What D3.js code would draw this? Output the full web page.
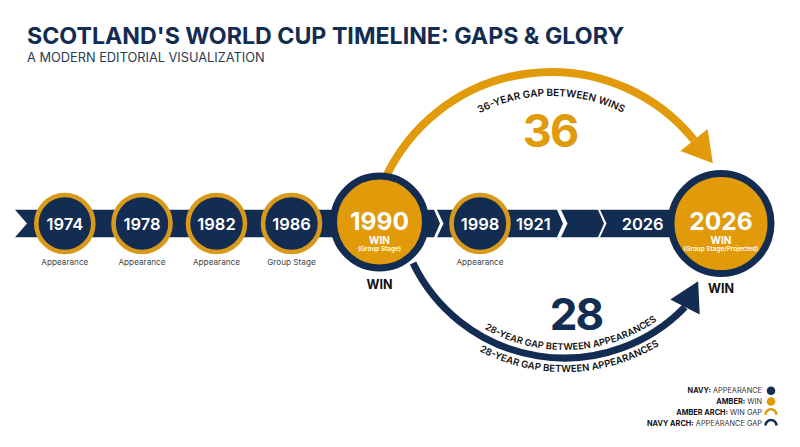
<!DOCTYPE html>
<html><head><meta charset="utf-8">
<script src="https://cdn.jsdelivr.net/npm/d3@7"></script>
<style>html,body{margin:0;background:#fff}svg{display:block;font-family:Inter,sans-serif}</style>
</head><body><svg id="c" width="800" height="447"></svg>
<script>
const years=[1974,1978,1982,1986,1990,1998,2026];
const kinds=["appearance","appearance","appearance","appearance","win","appearance","win"];
const captions=["Appearance","Appearance","Appearance","Group Stage","(Group Stage)","Appearance","(Group Stage/Projected)"];
const ribbonLabels=[{t:"1921",x:2004.2},{t:"2026",x:2016.9}];
const gapValues=[36,28];
const gapLabels=["36-YEAR GAP BETWEEN WINS","28-YEAR GAP BETWEEN APPEARANCES"];
const legendBold=["NAVY:","AMBER:","AMBER ARCH:","NAVY ARCH:"];
const legendRest=[" APPEARANCE"," WIN"," WIN GAP"," APPEARANCE GAP"];
const title="SCOTLAND'S WORLD CUP TIMELINE: GAPS & GLORY";
const subtitle="A MODERN EDITORIAL VISUALIZATION";

const NAVY="#132c52",AMBER="#e09a0a",RING="#d99a1c";
const svg=d3.select("#c");
const x=d3.scaleLinear().domain(years).range([64.8,142,216.5,291.5,379.5,480,721]);
const cy=223.5,bandH=27.5;

svg.append("text").attr("x",27).attr("y",43.5).attr("font-size",23.2).attr("font-weight",700).attr("fill",NAVY).text(title);
svg.append("text").attr("x",27).attr("y",62).attr("font-size",12.8).attr("fill","#2b3a52").text(subtitle);

// ribbon
const segs=[[15,434,true],[437,557,false],[561,598,false],[600,x(2026),false]];
const bandTop=cy-bandH/2,bandBot=cy+bandH/2,line=d3.line();
segs.forEach(([a,b],i)=>{
  const pts=[[a,bandTop],[b,bandTop],[b+(i===3?0:6),cy],[b,bandBot],[a,bandBot],[a+(i===0?12:6.5),cy]];
  svg.append("path").attr("d",line(pts)+"Z").attr("fill",NAVY);
});
svg.selectAll(".rl").data(ribbonLabels).join("text").attr("x",d=>x(d.x)).attr("y",cy+6)
  .attr("text-anchor","middle").attr("font-size",16.5).attr("font-weight",600).attr("fill","#fff").text(d=>d.t);

// geometry helpers
function circle3(a,b,c){
  const d=2*(a[0]*(b[1]-c[1])+b[0]*(c[1]-a[1])+c[0]*(a[1]-b[1]));
  const s=p=>p[0]*p[0]+p[1]*p[1];
  const ux=(s(a)*(b[1]-c[1])+s(b)*(c[1]-a[1])+s(c)*(a[1]-b[1]))/d;
  const uy=(s(a)*(c[0]-b[0])+s(b)*(a[0]-c[0])+s(c)*(b[0]-a[0]))/d;
  return {x:ux,y:uy,r:Math.hypot(a[0]-ux,a[1]-uy)};
}
const ang=(c,p)=>Math.atan2(p[1]-c.y,p[0]-c.x);
function gapArc(o){
  const c=circle3(o.a,o.b,o.e);
  const p=d3.path();
  p.arc(c.x,c.y,c.r,ang(c,o.a),ang(c,o.e),o.ccw);
  svg.append("path").attr("d",p.toString()).attr("fill","none").attr("stroke",o.color).attr("stroke-width",o.w);
  const t=ang(c,o.e)+(o.ccw?-Math.PI/2:Math.PI/2)+(o.turn||0);
  const ux=Math.cos(t),uy=Math.sin(t);
  const [ex,ey]=o.e;
  svg.append("path").attr("fill",o.color).attr("d",line([
    [ex+ux*o.L,ey+uy*o.L],[ex-uy*o.H,ey+ux*o.H],[ex+uy*o.H,ey-ux*o.H]])+"Z");
  return c;
}
function curvedText(c,id,r,mid,ccw,str,size){
  const p=d3.path(),sp=1.2;
  p.arc(c.x,c.y,r,ccw?mid+sp:mid-sp,ccw?mid-sp:mid+sp,ccw);
  svg.append("defs").append("path").attr("id",id).attr("d",p.toString());
  svg.append("text").attr("font-size",size).attr("font-weight",600).attr("fill","#111")
    .append("textPath").attr("href","#"+id).attr("startOffset","50%").attr("text-anchor","middle").text(str);
}
// amber arch
const ca=gapArc({a:[385,179],b:[550,72],e:[694,140],ccw:false,color:AMBER,w:8,L:30,H:17.5});
curvedText(ca,"t36",ca.r-(96-72),ang(ca,[551,72]),false,gapLabels[0],10);
svg.append("text").attr("x",550).attr("y",147).attr("text-anchor","middle").attr("font-size",45).attr("letter-spacing",-2).attr("font-weight",700).attr("fill",AMBER).text(gapValues[0]);
// navy arch
const cn=gapArc({a:[413,263],b:[560,358],e:[685,307],ccw:true,color:NAVY,w:7,L:29,H:16.5,turn:-0.3});
curvedText(cn,"t28a",cn.r+(350-358),ang(cn,[572,350]),true,gapLabels[1],9.3);
curvedText(cn,"t28b",cn.r+(372-358),ang(cn,[570,372]),true,gapLabels[1],9.6);
svg.append("text").attr("x",576).attr("y",330).attr("text-anchor","middle").attr("font-size",44).attr("letter-spacing",-2).attr("font-weight",700).attr("fill",NAVY).text(gapValues[1]);

// year nodes
const rows=years.map((y,i)=>({y,kind:kinds[i],cap:captions[i]}));
const g=svg.selectAll(".n").data(rows).join("g").attr("transform",d=>`translate(${x(d.y)},${cy})`);
g.append("circle")
  .attr("r",d=>d.kind==="win"?(d.y===1990?46:50):28.5)
  .attr("cy",d=>d.y===1990?-1.5:0)
  .attr("fill",d=>d.kind==="win"?AMBER:NAVY)
  .attr("stroke",d=>d.kind==="win"?NAVY:RING)
  .attr("stroke-width",d=>d.kind==="win"?7:4.6);
g.filter(d=>d.kind==="appearance").append("text").attr("y",6).attr("text-anchor","middle")
  .attr("font-size",16.5).attr("font-weight",600).attr("fill","#fff").text(d=>d.y);
g.filter(d=>d.kind==="appearance").append("text").attr("y",41.5).attr("text-anchor","middle")
  .attr("font-size",8.2).attr("fill","#444").text(d=>d.cap);
const w=g.filter(d=>d.kind==="win");
w.append("text").attr("y",6.5).attr("text-anchor","middle").attr("font-size",24.5).attr("font-weight",700).attr("fill","#fff").text(d=>d.y);
w.append("text").attr("y",20).attr("text-anchor","middle").attr("font-size",10).attr("font-weight",700).attr("fill","#fff").text("WIN");
w.append("text").attr("y",27.5).attr("text-anchor","middle").attr("font-size",6.4).attr("font-weight",600).attr("fill","#fff").text(d=>d.cap);
w.append("text").attr("y",d=>d.y===1990?65.5:69.5).attr("text-anchor","middle").attr("font-size",12.5).attr("font-weight",700).attr("fill","#111").text("WIN");

// legend
const ly=d3.scalePoint().domain(legendBold).range([390.7,423]);
const lg=svg.selectAll(".l").data(legendBold).join("g").attr("transform",d=>`translate(0,${ly(d)})`);
const lt=lg.append("text").attr("x",762).attr("y",2.7).attr("text-anchor","end").attr("font-size",7.35).attr("fill","#333");
lt.append("tspan").attr("font-weight",700).attr("fill","#111").text(d=>d);
lt.append("tspan").text((d,i)=>legendRest[i]);
lg.each(function(d,i){
  const s=d3.select(this);
  const col=i%2===0?NAVY:AMBER;
  if(i<2) s.append("circle").attr("cx",771).attr("r",4.3).attr("fill",col);
  else s.append("path").attr("transform","translate(771,2.5)").attr("fill",i===2?AMBER:NAVY)
    .attr("d",d3.arc().innerRadius(4.2).outerRadius(6.8)({startAngle:-Math.PI/2,endAngle:Math.PI/2}));
});
</script></body></html>
